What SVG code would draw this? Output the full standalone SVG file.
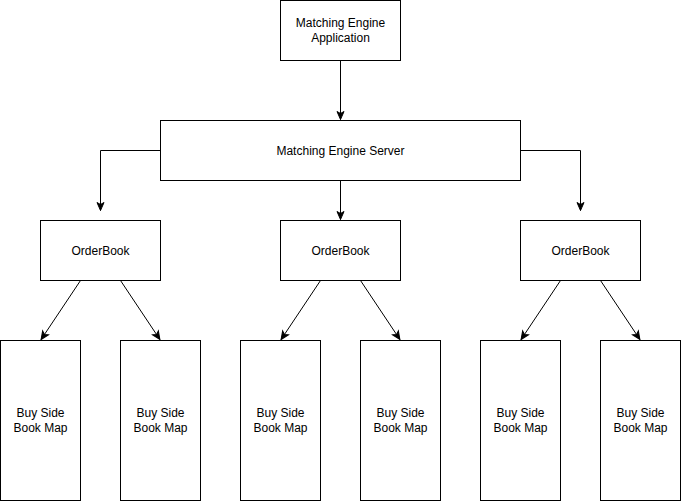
<svg xmlns="http://www.w3.org/2000/svg" width="681" height="501" viewBox="0 0 681 501">
<style>
.box{fill:#fff;stroke:#000;stroke-width:1}
.lbl{font-family:"Liberation Sans",Arial,Helvetica,sans-serif;font-size:12px;fill:#000;text-anchor:middle}
.edge{fill:none;stroke:#000;stroke-width:1}
</style>
<defs>
<marker id="arr" markerUnits="userSpaceOnUse" markerWidth="12" markerHeight="12" viewBox="-10 -5 12 10" refX="0" refY="0" orient="auto">
<path d="M0,0 L-8,-3.5 L-6,0 L-8,3.5 Z" fill="#000" stroke="#000" stroke-width="1"/>
</marker>
</defs>
<g transform="translate(0.5,0.5)">
<g id="connectors">
<path class="edge" d="M340,60 L340,119" marker-end="url(#arr)"/>
<path class="edge" d="M160,150 L100,150 L100,210" marker-end="url(#arr)"/>
<path class="edge" d="M340,180 L340,219" marker-end="url(#arr)"/>
<path class="edge" d="M520,150 L580,150 L580,210" marker-end="url(#arr)"/>
<path class="edge" d="M80,280 L40.6,339" marker-end="url(#arr)"/>
<path class="edge" d="M120,280 L159.4,339" marker-end="url(#arr)"/>
<path class="edge" d="M320,280 L280.6,339" marker-end="url(#arr)"/>
<path class="edge" d="M360,280 L399.4,339" marker-end="url(#arr)"/>
<path class="edge" d="M560,280 L520.6,339" marker-end="url(#arr)"/>
<path class="edge" d="M600,280 L639.4,339" marker-end="url(#arr)"/>
</g>
<g id="app"><rect class="box" x="280" y="0" width="120" height="60"/><text class="lbl" x="340" y="26">Matching Engine</text><text class="lbl" x="340" y="41">Application</text></g>
<g id="server"><rect class="box" x="160" y="120" width="360" height="60"/><text class="lbl" x="340" y="154">Matching Engine Server</text></g>
<g id="ob1"><rect class="box" x="40" y="220" width="120" height="60"/><text class="lbl" x="100" y="254">OrderBook</text></g>
<g id="ob2"><rect class="box" x="280" y="220" width="120" height="60"/><text class="lbl" x="340" y="254">OrderBook</text></g>
<g id="ob3"><rect class="box" x="520" y="220" width="120" height="60"/><text class="lbl" x="580" y="254">OrderBook</text></g>
<g id="map1"><rect class="box" x="0" y="340" width="80" height="160"/><text class="lbl" x="40" y="416">Buy Side</text><text class="lbl" x="40" y="431">Book Map</text></g>
<g id="map2"><rect class="box" x="120" y="340" width="80" height="160"/><text class="lbl" x="160" y="416">Buy Side</text><text class="lbl" x="160" y="431">Book Map</text></g>
<g id="map3"><rect class="box" x="240" y="340" width="80" height="160"/><text class="lbl" x="280" y="416">Buy Side</text><text class="lbl" x="280" y="431">Book Map</text></g>
<g id="map4"><rect class="box" x="360" y="340" width="80" height="160"/><text class="lbl" x="400" y="416">Buy Side</text><text class="lbl" x="400" y="431">Book Map</text></g>
<g id="map5"><rect class="box" x="480" y="340" width="80" height="160"/><text class="lbl" x="520" y="416">Buy Side</text><text class="lbl" x="520" y="431">Book Map</text></g>
<g id="map6"><rect class="box" x="600" y="340" width="80" height="160"/><text class="lbl" x="640" y="416">Buy Side</text><text class="lbl" x="640" y="431">Book Map</text></g>
</g>
</svg>
